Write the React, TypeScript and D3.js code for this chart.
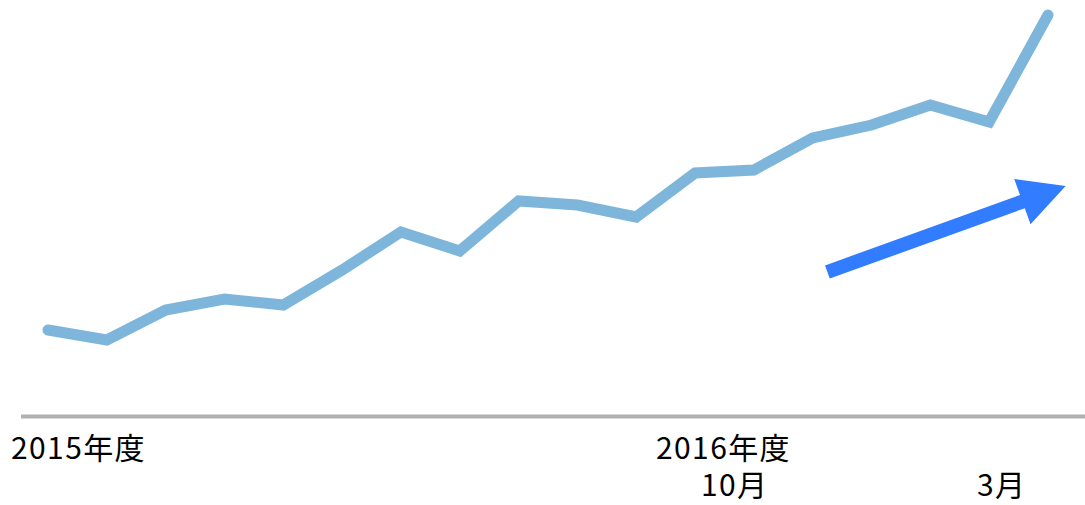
import React from 'react';
import * as d3 from 'd3';

// monthly index values (arbitrary units)
const months = ['4月', '5月', '6月', '7月', '8月', '9月', '10月', '11月', '12月', '1月', '2月', '3月',
    '4月', '5月', '6月', '7月', '8月', '9月'];
const values = [21.25, 18.75, 26.25, 29, 27.5, 36.25, 45.75, 41, 53.5, 52.5, 49.5, 60.5,
    61.25, 69.25, 72.5, 77.5, 73.25, 100];

// labels under the axis: [index into months, row, text]
const tickLabels: [number, number, string][] = [
    [0, 0, '2015年度'],
    [11, 0, '2016年度'],
    [11, 1, '10月'],
    [16, 1, '3月'],
];

// trend arrow, in index / value units
const arrowFrom = [13.25, 35.75];
const arrowTo = [17.3, 57.25];

const W = 1085, H = 505;

export default function App() {
    const x = d3.scaleLinear().domain([0, months.length - 1]).range([48, 1048]);
    const y = d3.scaleLinear().domain([0, 100]).range([415, 15]);

    const line = d3.line<number>()
        .x((d, i) => x(i))
        .y((d) => y(d));

    // arrow geometry
    const x0 = x(arrowFrom[0]), y0 = y(arrowFrom[1]);
    const x1 = x(arrowTo[0]), y1 = y(arrowTo[1]);
    const ang = Math.atan2(y1 - y0, x1 - x0);
    const len = Math.hypot(x1 - x0, y1 - y0);
    const headLen = 46, headHalf = 24, shaft = 7;
    const ux = Math.cos(ang), uy = Math.sin(ang);
    const nx = -uy, ny = ux;
    const bx = x0 + ux * (len - headLen), by = y0 + uy * (len - headLen);
    const pts = [
        [x0 + nx * shaft, y0 + ny * shaft],
        [bx + nx * shaft, by + ny * shaft],
        [bx + nx * headHalf, by + ny * headHalf],
        [x1, y1],
        [bx - nx * headHalf, by - ny * headHalf],
        [bx - nx * shaft, by - ny * shaft],
        [x0 - nx * shaft, y0 - ny * shaft],
    ];

    // label x positions
    const labelX = (i: number, t: string) => {
        if (i === 0) return 11;
        if (t === '2016年度') return 656;
        if (t === '10月') return 701;
        return 977;
    };

    return (
        <svg width={W} height={H} style={{ position: 'absolute', left: 0, top: 0 }}
            fontFamily="'Noto Sans CJK JP', 'Noto Sans', sans-serif">
            <line x1={21} x2={W} y1={416.5} y2={416.5} stroke="#b1b1b1" strokeWidth={4} />
            <path d={line(values) || ''} fill="none" stroke="#7db6da" strokeWidth={11}
                strokeLinecap="round" strokeLinejoin="miter" />
            <polygon points={pts.map((p) => p.join(',')).join(' ')} fill="#317cff" />
            {tickLabels.map(([i, row, t], k) => (
                <text key={k} x={labelX(i, t)} y={row === 0 ? 459 : 496}
                    fontSize={30} letterSpacing={1.4} fill="#000">{t}</text>
            ))}
        </svg>
    );
}
